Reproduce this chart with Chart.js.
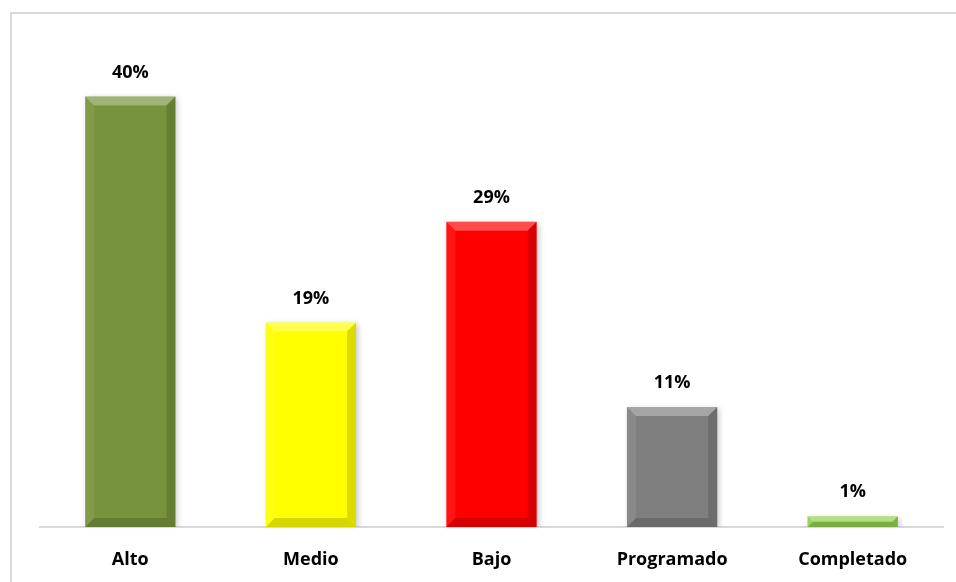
<!DOCTYPE html>
<html>
<head>
<meta charset="utf-8">
<script src="https://cdn.jsdelivr.net/npm/chart.js@4.4.1/dist/chart.umd.min.js"></script>
<style>
    html, body { margin: 0; padding: 0; background: #fff; }
    #wrap { width: 956px; height: 582px; position: relative; }
</style>
</head>
<body>
<div id="wrap"><canvas id="grafico"></canvas></div>
<script>
// ------------------ Datos ------------------
const categorias = ["Alto", "Medio", "Bajo", "Programado", "Completado"];
const porcentajes = [40.2, 19.1, 28.5, 11.2, 1.0];
const colores = ["#77933c", "#ffff00", "#ff0000", "#7f7f7f", "#92d050"];

// ------------------ Marco del gráfico ------------------
const marco = {
    id: 'marco',
    beforeDraw(chart) {
        const c = chart.ctx;
        c.save();
        c.strokeStyle = '#d9d9d9';
        c.lineWidth = 2;
        c.beginPath();
        c.moveTo(11, chart.height);
        c.lineTo(11, 13);
        c.lineTo(chart.width, 13);
        c.stroke();
        c.restore();
    }
};

// ------------------ Biselado de barras ------------------
const bisel = {
    id: 'bisel',
    beforeDatasetDraw(chart) {
        const c = chart.ctx;
        c.save();
        c.shadowColor = 'rgba(0,0,0,0.22)';
        c.shadowBlur = 6;
        c.shadowOffsetX = 2;
        c.shadowOffsetY = 2;
    },
    afterDatasetDraw(chart) {
        const c = chart.ctx;
        c.restore();
        chart.getDatasetMeta(0).data.forEach(bar => {
            let l = bar.x - bar.width / 2;
            let r = bar.x + bar.width / 2;
            let t = bar.y;
            let b = bar.base;
            let s = Math.min(9, (b - t) / 2);
            const cara = (pts, color) => {
                c.beginPath();
                c.moveTo(pts[0][0], pts[0][1]);
                pts.slice(1).forEach(p => c.lineTo(p[0], p[1]));
                c.closePath();
                c.fillStyle = color;
                c.fill();
            };
            cara([[l, t], [r, t], [r - s, t + s], [l + s, t + s]], 'rgba(255,255,255,0.3)');
            cara([[l, t], [l + s, t + s], [l + s, b - s], [l, b]], 'rgba(255,255,255,0.08)');
            cara([[r, t], [r - s, t + s], [r - s, b - s], [r, b]], 'rgba(0,0,0,0.14)');
            cara([[l, b], [l + s, b - s], [r - s, b - s], [r, b]], 'rgba(0,0,0,0.16)');
        });
    }
};

// ------------------ Etiquetas de valor ------------------
const etiquetas = {
    id: 'etiquetas',
    afterDatasetsDraw(chart) {
        const c = chart.ctx;
        c.save();
        c.font = 'bold 18px "Open Sans", "Noto Sans", sans-serif';
        c.fillStyle = '#000';
        c.textAlign = 'center';
        c.textBaseline = 'middle';
        chart.getDatasetMeta(0).data.forEach((bar, i) => {
            c.fillText(Math.round(porcentajes[i]) + '%', bar.x, bar.y - 24);
        });
        c.restore();
    }
};

// ------------------ Gráfico ------------------
const ctx = document.getElementById('grafico').getContext('2d');
new Chart(ctx, {
    type: 'bar',
    data: {
        labels: categorias,
        datasets: [{
            data: porcentajes,
            backgroundColor: colores,
            barPercentage: 0.5,
            categoryPercentage: 1
        }]
    },
    options: {
        responsive: true,
        maintainAspectRatio: false,
        animation: false,
        layout: { padding: { left: 40, right: 13, top: 45, bottom: 0 } },
        plugins: { legend: { display: false }, tooltip: { enabled: false } },
        scales: {
            y: { display: false, min: 0, max: 45 },
            x: {
                grid: { display: false },
                border: { color: '#d9d9d9', width: 2 },
                afterFit(scale) { scale.height = 55; },
                ticks: {
                    color: '#000',
                    padding: 14,
                    font: { family: '"Open Sans", "Noto Sans", sans-serif', size: 18, weight: 'bold' }
                }
            }
        }
    },
    plugins: [marco, bisel, etiquetas]
});
</script>
</body>
</html>
